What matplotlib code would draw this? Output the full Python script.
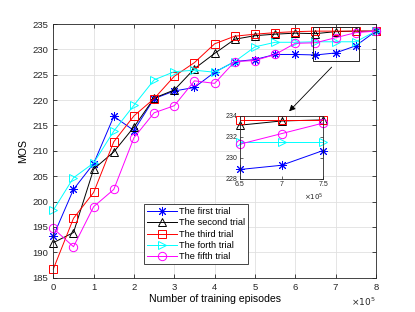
import matplotlib
matplotlib.use('Agg')
import matplotlib.pyplot as plt
from matplotlib.patches import Rectangle

plt.rcParams['font.family'] = ['Liberation Sans', 'DejaVu Sans']

# training episodes (x 1e5)
episodes = [0, 0.5, 1, 1.5, 2, 2.5, 3, 3.5, 4, 4.5, 5, 5.5, 6, 6.5, 7, 7.5, 8]

first_trial = [193.2, 202.4, 207.5, 216.8, 214.0, 220.3, 221.8, 222.5, 225.5, 227.6,
               228.0, 229.0, 229.0, 228.9, 229.3, 230.7, 233.6]
second_trial = [191.9, 193.9, 206.4, 209.8, 214.7, 220.4, 222.0, 226.2, 229.2, 232.0,
                232.7, 233.0, 233.2, 233.1, 233.5, 233.6, 233.6]
third_trial = [186.7, 196.7, 201.8, 211.8, 216.9, 220.3, 224.7, 227.4, 231.1, 232.6,
               233.0, 233.3, 233.5, 233.6, 233.6, 233.6, 233.6]
forth_trial = [198.3, 204.7, 207.6, 213.9, 219.0, 224.0, 225.6, 225.9, 225.5, 227.6,
               230.5, 231.4, 231.4, 231.5, 231.5, 231.5, 233.6]
fifth_trial = [194.7, 191.1, 199.0, 202.4, 212.6, 217.5, 218.9, 223.8, 223.3, 227.6,
               227.8, 229.0, 231.2, 231.3, 232.3, 233.3, 233.6]

labels = ['The first trial', 'The second trial', 'The third trial',
          'The forth trial', 'The fifth trial']
series = [first_trial, second_trial, third_trial, forth_trial, fifth_trial]
colors = ['#0000ff', '#000000', '#ff0000', '#00ffff', '#ff00ff']
markers = [(8, 2, 0), '^', 's', '>', 'o']
msizes = [6.5, 6, 5.5, 6, 6]


def draw(a, xs, ys, c, m, ms, lab=None):
    a.plot(xs, ys, color=c, marker=m, markersize=ms, linewidth=0.7,
           markerfacecolor='none', markeredgewidth=0.7, label=lab, clip_on=False)


fig = plt.figure(figsize=(4.15, 3.12), dpi=100)
ax = fig.add_axes([0.1285, 0.110, 0.7773, 0.813])

for ys, lab, c, m, ms in zip(series, labels, colors, markers, msizes):
    draw(ax, episodes, ys, c, m, ms, lab)

ax.set_xlim(0, 8)
ax.set_ylim(185, 235)
ax.set_xticks(range(0, 9))
ax.set_yticks(range(185, 236, 5))
ax.tick_params(direction='in', labelsize=6.8, length=3, width=0.6,
               top=True, right=True, colors='#262626')
ax.grid(True, color='#e0e0e0', linewidth=0.6)
for s in ax.spines.values():
    s.set_linewidth(0.6)
    s.set_color('#262626')
ax.set_xlabel('Number of training episodes', fontsize=7.6, labelpad=2)
ax.set_ylabel('MOS', fontsize=7.6, labelpad=3)
ax.text(1.0, -0.07, r'$\times10^5$', transform=ax.transAxes, ha='right',
        va='top', fontsize=6.5, color='#262626')

leg = ax.legend(loc='lower left', bbox_to_anchor=(0.281, 0.053), borderaxespad=0,
                fontsize=6.7, fancybox=False, edgecolor='#262626', framealpha=1,
                handlelength=3.2, labelspacing=0.25, borderpad=0.3,
                handletextpad=0.3)
leg.get_frame().set_linewidth(0.6)

# zoom box and arrow
ax.add_patch(Rectangle((6.45, 227.8), 1.13, 6.7, fill=False, edgecolor='#262626',
                       linewidth=0.7, zorder=5))
ax.annotate('', xy=(5.8, 217.4), xytext=(6.95, 226.9),
            arrowprops=dict(arrowstyle='-|>', color='black', lw=0.6,
                            mutation_scale=9))

# inset
ins = fig.add_axes([0.578, 0.4263, 0.2007, 0.2029])
for ys, c, m, ms in zip(series, colors, markers, msizes):
    draw(ins, episodes[13:16], ys[13:16], c, m, ms)
ins.set_xlim(6.5, 7.5)
ins.set_ylim(228, 234)
ins.set_xticks([6.5, 7, 7.5])
ins.set_xticklabels(['6.5', '7', '7.5'])
ins.set_yticks([228, 230, 232, 234])
ins.tick_params(direction='in', labelsize=5, length=2, width=0.5, pad=1.5,
                top=True, right=True, colors='#262626')
for s in ins.spines.values():
    s.set_linewidth(0.6)
    s.set_color('#262626')
ins.text(1.0, -0.2, r'$\times10^5$', transform=ins.transAxes, ha='right',
         va='top', fontsize=5, color='#262626')

fig.savefig('out.png', dpi=100)
